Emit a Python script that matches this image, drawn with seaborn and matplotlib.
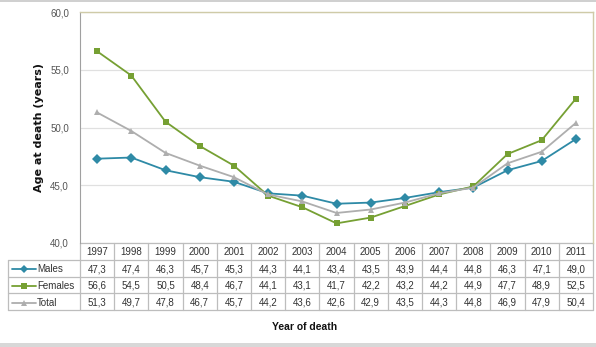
import matplotlib
matplotlib.use("Agg")
import matplotlib.pyplot as plt
from matplotlib.lines import Line2D
from matplotlib.patches import Rectangle
from matplotlib.ticker import FuncFormatter, MultipleLocator
import seaborn as sns
import pandas as pd

years = [1997, 1998, 1999, 2000, 2001, 2002, 2003, 2004, 2005, 2006, 2007, 2008, 2009, 2010, 2011]
males = [47.3, 47.4, 46.3, 45.7, 45.3, 44.3, 44.1, 43.4, 43.5, 43.9, 44.4, 44.8, 46.3, 47.1, 49.0]
females = [56.6, 54.5, 50.5, 48.4, 46.7, 44.1, 43.1, 41.7, 42.2, 43.2, 44.2, 44.9, 47.7, 48.9, 52.5]
total = [51.3, 49.7, 47.8, 46.7, 45.7, 44.2, 43.6, 42.6, 42.9, 43.5, 44.3, 44.8, 46.9, 47.9, 50.4]
series_names = ["Males", "Females", "Total"]
series_values = [males, females, total]
colors = {"Males": "#2E8AA6", "Females": "#76A033", "Total": "#AEAEAE"}
markers = {"Males": "D", "Females": "s", "Total": "^"}
msizes = {"Males": 4.5, "Females": 5, "Total": 5}

sns.set_style("white")
plt.rcParams['font.family'] = ['Liberation Sans', 'DejaVu Sans']

rows = []
for name, vals in zip(series_names, series_values):
    for i, (y, v) in enumerate(zip(years, vals)):
        rows.append({"idx": i, "year": y, "value": v, "series": name})
df = pd.DataFrame(rows)

W, H = 596, 347
fig = plt.figure(figsize=(W / 100, H / 100), dpi=100)
x0, x1, ytop, ybot = 80, 593, 12, 243
ax = fig.add_axes([x0 / W, 1 - ybot / H, (x1 - x0) / W, (ybot - ytop) / H])

sns.lineplot(data=df, x="idx", y="value", hue="series", style="series",
             palette=colors, markers=markers, dashes=False, linewidth=1.3,
             markersize=5, markeredgewidth=0, legend=False, ax=ax)

ax.set_xlim(-0.5, len(years) - 0.5)
ax.set_ylim(40, 60)
ax.yaxis.set_major_locator(MultipleLocator(5))
ax.yaxis.set_major_formatter(FuncFormatter(lambda v, p: f"{v:.1f}".replace(".", ",")))
ax.set_xticks([])
ax.set_xlabel("")
ax.set_ylabel("Age at death (years)", fontsize=8, fontweight="bold", labelpad=4,
              family=["DejaVu Sans"], color="#111111")
ax.tick_params(axis="y", labelsize=7, labelcolor="#555555", length=0, pad=8)
ax.grid(axis="y", color="#E0E0E0", linewidth=0.9)
ax.set_axisbelow(True)
for s in ["top", "right"]:
    ax.spines[s].set_color("#CFCBA8")
    ax.spines[s].set_linewidth(1.0)
ax.spines["left"].set_color("#A0A0A0")
ax.spines["bottom"].set_visible(False)

# Data table below the plot
n = len(years)
axw = x1 - x0
axh = ybot - ytop
row_h = 16.8
lab_left = 8
cell_w = axw / n
tx = lambda px: (px - x0) / axw
ty = lambda py: (ybot - py) / axh
edge = "#BDBDBD"

def hline(py, xa, xb):
    ax.add_line(Line2D([tx(xa), tx(xb)], [ty(py), ty(py)], transform=ax.transAxes,
                       color=edge, lw=0.9, clip_on=False))

def vline(px, ya, yb):
    ax.add_line(Line2D([tx(px), tx(px)], [ty(ya), ty(yb)], transform=ax.transAxes,
                       color=edge, lw=0.9, clip_on=False))

table_bottom = ybot + 4 * row_h
hline(ybot, x0, x1)
for r in range(1, 5):
    hline(ybot + r * row_h, lab_left, x1)
for c in range(n + 1):
    vline(x0 + c * cell_w, ybot, table_bottom)
vline(lab_left, ybot + row_h, table_bottom)

for c, y in enumerate(years):
    ax.text(tx(x0 + (c + 0.5) * cell_w), ty(ybot + 0.55 * row_h), str(y),
            transform=ax.transAxes, ha="center", va="center", fontsize=7, color="#333333")

for r, (name, vals) in enumerate(zip(series_names, series_values)):
    cy = ybot + (r + 1.55) * row_h
    for c, v in enumerate(vals):
        ax.text(tx(x0 + (c + 0.5) * cell_w), ty(cy), f"{v:.1f}".replace(".", ","),
                transform=ax.transAxes, ha="center", va="center", fontsize=7, color="#333333")
    ax.add_line(Line2D([tx(12), tx(36)], [ty(cy), ty(cy)], transform=ax.transAxes,
                       color=colors[name], lw=1.3, clip_on=False))
    ax.add_line(Line2D([tx(24)], [ty(cy)], transform=ax.transAxes, marker=markers[name],
                       markersize=msizes[name], markeredgewidth=0, color=colors[name],
                       linestyle="none", clip_on=False))
    ax.text(tx(37), ty(cy), name, transform=ax.transAxes, ha="left", va="center",
            fontsize=7, color="#333333")

fig.text(305 / W, 1 - 327 / H, "Year of death", ha="center", va="center",
         fontsize=7.5, fontweight="bold", color="#111111")

# Outer frame bands
fig.add_artist(Rectangle((0, 1 - 2 / H), 1, 2 / H, transform=fig.transFigure,
                         color="#D0D0D0", lw=0))
fig.add_artist(Rectangle((0, 0), 1, 4 / H, transform=fig.transFigure,
                         color="#D8D8D8", lw=0))

fig.savefig("out.png", dpi=100)
